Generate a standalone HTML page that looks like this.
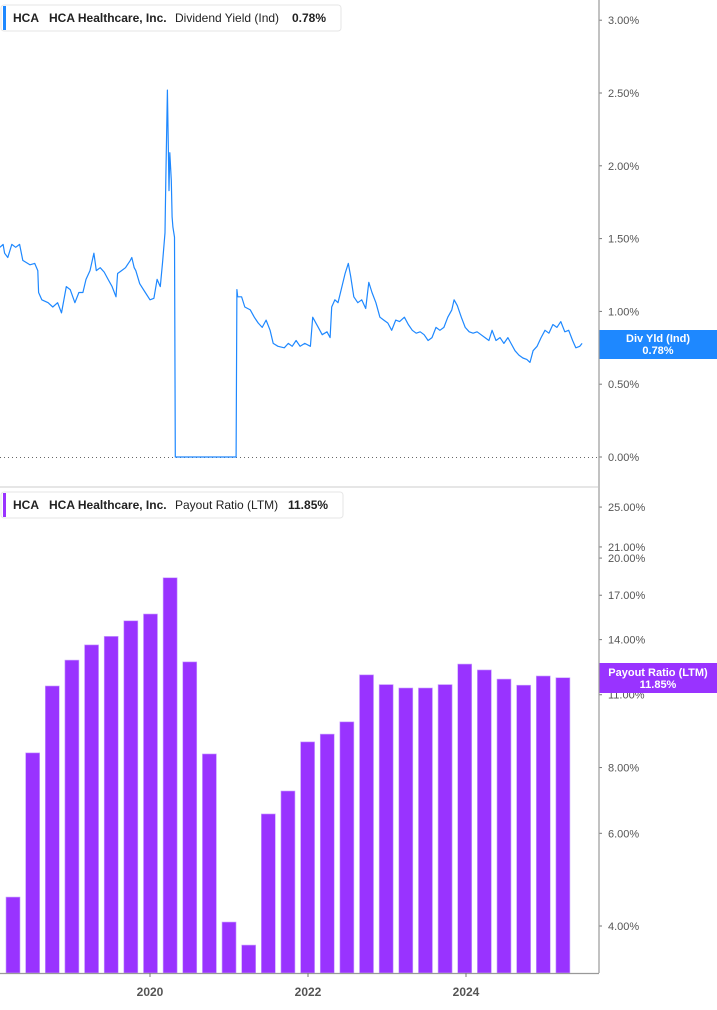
<!DOCTYPE html>
<html><head><meta charset="utf-8">
<style>
body{margin:0;background:#fff;font-family:"Liberation Sans",sans-serif;}
svg text{font-family:"Liberation Sans",sans-serif;}
</style></head>
<body>
<svg id="chart" width="717" height="1005" viewBox="0 0 717 1005" xmlns="http://www.w3.org/2000/svg">
<rect x="0" y="0" width="717" height="1005" fill="#fff"/>
<g id="topPanel"></g>
<g id="bottomPanel"></g>
<line x1="0" y1="487" x2="598" y2="487" stroke="#ddd" stroke-width="1.5"/>
<line x1="599" y1="0" x2="599" y2="973" stroke="#999" stroke-width="1.2"/>
<line x1="0" y1="973.5" x2="599" y2="973.5" stroke="#999" stroke-width="1.2"/>
<g id="xaxis"></g>
<g>
<rect x="1" y="5" width="340" height="26" rx="3" fill="#fff" stroke="#e6e6e6"/>
<rect x="3" y="6" width="3" height="24" fill="#1e88ff"/>
<text x="13" y="22" font-size="12" font-weight="bold" fill="#222">HCA</text>
<text x="49" y="22" font-size="12" font-weight="bold" fill="#222">HCA Healthcare, Inc.</text>
<text x="175" y="22" font-size="12" fill="#222">Dividend Yield (Ind)</text>
<text x="292" y="22" font-size="12" font-weight="bold" fill="#222">0.78%</text>
</g>
<g>
<rect x="1" y="492" width="342" height="26" rx="3" fill="#fff" stroke="#e6e6e6"/>
<rect x="3" y="493" width="3" height="24" fill="#9933ff"/>
<text x="13" y="509" font-size="12" font-weight="bold" fill="#222">HCA</text>
<text x="49" y="509" font-size="12" font-weight="bold" fill="#222">HCA Healthcare, Inc.</text>
<text x="175" y="509" font-size="12" fill="#222">Payout Ratio (LTM)</text>
<text x="288" y="509" font-size="12" font-weight="bold" fill="#222">11.85%</text>
</g>
</svg>
<script>
// Dividend yield line data (year fraction, percent)
const yieldDates = [2018.10,2018.14,2018.16,2018.20,2018.25,2018.30,2018.35,2018.39,2018.48,2018.54,2018.58,2018.59,2018.63,2018.71,2018.77,2018.83,2018.88,2018.94,2018.99,2019.05,2019.10,2019.15,2019.19,2019.24,2019.29,2019.32,2019.37,2019.42,2019.47,2019.52,2019.57,2019.59,2019.64,2019.69,2019.75,2019.77,2019.80,2019.82,2019.87,2019.94,2020.00,2020.05,2020.09,2020.13,2020.16,2020.19,2020.20,2020.22,2020.23,2020.24,2020.25,2020.27,2020.28,2020.29,2020.31,2020.32,2021.09,2021.10,2021.11,2021.16,2021.20,2021.27,2021.32,2021.37,2021.42,2021.47,2021.52,2021.56,2021.62,2021.70,2021.75,2021.80,2021.85,2021.90,2021.96,2022.03,2022.06,2022.13,2022.18,2022.24,2022.28,2022.30,2022.34,2022.38,2022.42,2022.47,2022.51,2022.54,2022.58,2022.63,2022.68,2022.73,2022.77,2022.81,2022.86,2022.91,2022.96,2023.01,2023.06,2023.11,2023.16,2023.22,2023.27,2023.32,2023.37,2023.42,2023.47,2023.52,2023.57,2023.62,2023.67,2023.72,2023.77,2023.82,2023.85,2023.89,2023.94,2023.99,2024.04,2024.09,2024.14,2024.19,2024.24,2024.29,2024.33,2024.38,2024.43,2024.48,2024.53,2024.57,2024.62,2024.67,2024.72,2024.77,2024.81,2024.85,2024.90,2024.95,2025.00,2025.05,2025.10,2025.15,2025.20,2025.25,2025.30,2025.35,2025.39,2025.44,2025.47];
const yieldValues = [1.44,1.46,1.40,1.37,1.46,1.44,1.46,1.35,1.32,1.33,1.28,1.13,1.08,1.06,1.03,1.06,0.99,1.17,1.15,1.06,1.13,1.13,1.22,1.28,1.40,1.28,1.30,1.27,1.22,1.17,1.10,1.26,1.28,1.30,1.35,1.37,1.30,1.28,1.19,1.13,1.08,1.09,1.22,1.17,1.34,1.54,1.90,2.52,2.18,1.83,2.09,1.90,1.65,1.58,1.51,0,0,1.15,1.10,1.10,1.03,1.01,0.96,0.92,0.89,0.94,0.87,0.78,0.76,0.75,0.78,0.76,0.80,0.76,0.78,0.76,0.96,0.89,0.84,0.86,0.82,1.03,1.08,1.06,1.15,1.26,1.33,1.24,1.10,1.06,1.08,1.02,1.20,1.13,1.06,0.96,0.94,0.92,0.87,0.94,0.93,0.96,0.91,0.87,0.85,0.86,0.84,0.80,0.82,0.89,0.87,0.89,0.96,1.01,1.08,1.04,0.96,0.89,0.86,0.85,0.86,0.84,0.82,0.80,0.87,0.80,0.82,0.78,0.82,0.78,0.73,0.70,0.68,0.67,0.65,0.73,0.76,0.82,0.87,0.85,0.91,0.89,0.93,0.86,0.87,0.80,0.75,0.76,0.78];
const yieldTicks = [0,0.5,1,1.5,2,2.5,3];
// Payout ratio bars (quarterly)
const payoutQuarters = ["2018Q2","2018Q3","2018Q4","2019Q1","2019Q2","2019Q3","2019Q4","2020Q1","2020Q2","2020Q3","2020Q4","2021Q1","2021Q2","2021Q3","2021Q4","2022Q1","2022Q2","2022Q3","2022Q4","2023Q1","2023Q2","2023Q3","2023Q4","2024Q1","2024Q2","2024Q3","2024Q4","2025Q1","2025Q2"];
const payoutValues = [4.54,8.53,11.43,12.8,13.68,14.2,15.2,15.66,18.35,12.7,8.49,4.07,3.68,6.53,7.22,8.95,9.26,9.77,12.0,11.5,11.33,11.33,11.5,12.58,12.26,11.78,11.47,11.94,11.85];
const payoutTicks = [4,6,8,11,14,17,20,21,25];
const xYears = [2020,2022,2024];

const NS="http://www.w3.org/2000/svg";
function mk(tag,attrs,parent){const e=document.createElementNS(NS,tag);for(const k in attrs)e.setAttribute(k,attrs[k]);parent.appendChild(e);return e;}
const xTime = t => 150 + (t-2020)*79;
const yYield = v => 457 - v*145.6;
const yPay = v => 926 - Math.log(v/4)*228.6;
const xBar = i => 6 + i*19.64;

const topG=document.getElementById('topPanel'), bottomG=document.getElementById('bottomPanel'), xa=document.getElementById('xaxis');

const zl=mk('line',{x1:0,y1:yYield(0)+0.5,x2:598,y2:yYield(0)+0.5,stroke:'#666','stroke-dasharray':'1,3'},topG);



yieldTicks.forEach(v=>{
  const y=yYield(v);
  const tk=mk('line',{x1:599,y1:y,x2:602,y2:y,stroke:'#777'},topG);
  
  
  const t=mk('text',{x:608,y:y+4,'font-size':11,fill:'#555'},topG);
  
  
  t.textContent=v.toFixed(2)+'%';
});

let d='';
const nPts=Math.min(yieldDates.length,yieldValues.length);
for(let i=0;i<nPts;i++){d+=(i?'L':'M')+xTime(yieldDates[i]).toFixed(1)+','+yYield(yieldValues[i]).toFixed(1);}
const ln=mk('path',{d:d,fill:'none',stroke:'#1e88ff','stroke-width':1.2,'stroke-linejoin':'round'},topG);



const lastY=yieldValues[nPts-1];
const bx=mk('g',{},topG);


const byc=344;
mk('rect',{x:599,y:byc-14,width:118,height:29,fill:'#1e88ff'},bx);
const b1=mk('text',{x:658,y:byc-2,'font-size':11,'font-weight':'bold',fill:'#fff','text-anchor':'middle'},bx);b1.textContent='Div Yld (Ind)';
const b2=mk('text',{x:658,y:byc+10,'font-size':11,'font-weight':'bold',fill:'#fff','text-anchor':'middle'},bx);b2.textContent=lastY.toFixed(2)+'%';

payoutTicks.forEach(v=>{
  const y=yPay(v);
  const tk=mk('line',{x1:599,y1:y,x2:602,y2:y,stroke:'#777'},bottomG);
  
  
  const t=mk('text',{x:608,y:y+4,'font-size':11,fill:'#555'},bottomG);
  
  
  t.textContent=v.toFixed(2)+'%';
});

payoutValues.forEach((v,i)=>{
  const y=yPay(v);
  const r=mk('rect',{x:xBar(i),y:y,width:14,height:973-y,fill:'#9933ff',stroke:'#c9a0ff','stroke-width':0.6},bottomG);
  
  
});

const lastP=payoutValues[payoutValues.length-1];
const pb=mk('g',{},bottomG);


const pyc=678;
mk('rect',{x:599,y:pyc-15,width:118,height:30,fill:'#9933ff'},pb);
const p1=mk('text',{x:658,y:pyc-2,'font-size':11,'font-weight':'bold',fill:'#fff','text-anchor':'middle'},pb);p1.textContent='Payout Ratio (LTM)';
const p2=mk('text',{x:658,y:pyc+10,'font-size':11,'font-weight':'bold',fill:'#fff','text-anchor':'middle'},pb);p2.textContent=lastP.toFixed(2)+'%';

xYears.forEach(yr=>{
  const x=xTime(yr);
  const tk=mk('line',{x1:x,y1:973,x2:x,y2:977,stroke:'#777'},xa);
  
  
  const t=mk('text',{x:x,y:996,'font-size':12,'font-weight':'bold',fill:'#555','text-anchor':'middle'},xa);
  
  
  t.textContent=yr;
});
</script>
</body></html>
